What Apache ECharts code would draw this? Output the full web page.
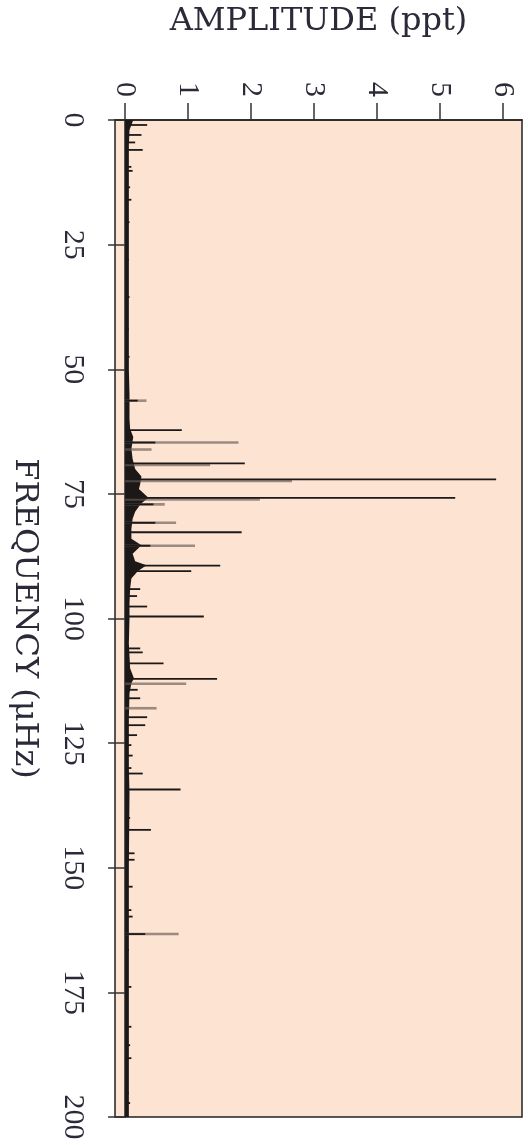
<!DOCTYPE html>
<html><head><meta charset="utf-8">
<script src="https://cdn.jsdelivr.net/npm/echarts@6/dist/echarts.min.js"></script>
<style>html,body{margin:0;padding:0;background:#fff}#c{width:528px;height:1145px}</style>
</head><body><div id="c"></div>
<script>
// Tick labels
const freqTicks = [0, 25, 50, 75, 100, 125, 150, 175, 200];
const ampTicks = [0, 1, 2, 3, 4, 5, 6];

// Dark (strong) spectral peaks: frequency (μHz) and amplitude (ppt)
const darkFreq = [1.0, 3.0, 4.5, 6.0, 9.4, 10.2, 13.5, 16.0, 20.5, 28.0, 35.5, 42.0, 47.5,
  56.3, 62.2, 64.7, 68.9, 72.1, 75.8, 77.1, 80.8, 82.7, 85.4, 89.4, 90.5, 94.1, 95.5, 97.6,
  99.6, 106.0, 106.8, 109.0, 112.1, 114.3, 116.0, 119.8, 121.4, 123.4, 125.4, 127.5, 130.0,
  131.1, 134.3, 140.0, 142.4, 147.1, 148.4, 153.8, 158.5, 159.8, 163.3, 166.5, 173.9, 181.9,
  185.6, 188.2, 195.2, 197.2];
const darkAmp = [0.35, 0.26, 0.16, 0.28, 0.10, 0.12, 0.08, 0.10, 0.07, 0.06, 0.07, 0.06, 0.07,
  0.20, 0.90, 0.48, 1.90, 5.89, 5.24, 0.45, 0.48, 1.85, 0.40, 1.51, 1.05, 0.24, 0.19, 0.35,
  1.25, 0.24, 0.28, 0.61, 1.46, 0.20, 0.24, 0.35, 0.32, 0.19, 0.10, 0.12, 0.10,
  0.28, 0.88, 0.08, 0.41, 0.15, 0.15, 0.12, 0.10, 0.12, 0.32, 0.06, 0.10, 0.10,
  0.08, 0.10, 0.06, 0.08];

// Lighter (blended) peak components
const grayFreq = [56.3, 64.7, 66.1, 69.2, 72.4, 76.1, 77.1, 80.8, 85.4, 113.1, 118.0, 163.3];
const grayAmp = [0.34, 1.80, 0.42, 1.35, 2.65, 2.14, 0.63, 0.81, 1.11, 0.97, 0.50, 0.85];

// Noise envelope (upper edge of the dense low-level spectrum)
const noiseFreq = [0, 1, 2, 5, 10, 20, 30, 40, 50, 55, 60, 62, 63.6, 66, 68, 70, 71.5, 73, 74,
  75.8, 77, 78.6, 80, 82, 84, 85.3, 87, 88.5, 89.3, 90.5, 92, 94, 97, 100, 105, 110, 112, 113,
  115, 120, 130, 135, 150, 165, 180, 200];
const noiseAmp = [0.13, 0.10, 0.07, 0.06, 0.06, 0.06, 0.06, 0.06, 0.06, 0.07, 0.07, 0.08, 0.13,
  0.10, 0.12, 0.16, 0.26, 0.24, 0.22, 0.37, 0.25, 0.16, 0.12, 0.10, 0.10, 0.26, 0.12, 0.16,
  0.34, 0.20, 0.10, 0.08, 0.07, 0.07, 0.06, 0.08, 0.14, 0.10, 0.07, 0.06, 0.06, 0.07, 0.06,
  0.06, 0.06, 0.06];

const FONT = 'Liberation Serif';
const NAMEFONT = 'DejaVu Serif';
const TXT = '#2a2a38';

function spikeSeries(freqs, amps, color, width) {
  return {
    type: 'custom',
    coordinateSystem: 'cartesian2d',
    encode: { x: 0, y: 1 },
    data: freqs.map((f, i) => [amps[i], f]),
    renderItem: function (params, api) {
      const a = api.coord([0, api.value(1)]);
      const b = api.coord([api.value(0), api.value(1)]);
      return { type: 'line', shape: { x1: a[0], y1: a[1], x2: b[0], y2: b[1] },
        style: { stroke: color, lineWidth: width } };
    },
    silent: true, animation: false
  };
}

const noiseSeries = {
  type: 'custom',
  coordinateSystem: 'cartesian2d',
  encode: { x: 0, y: 1 },
  data: noiseFreq.map((f, i) => [noiseAmp[i], f]),
  renderItem: function (params, api) {
    if (params.dataIndex !== 0) return null;
    const pts = noiseFreq.map((f, i) => api.coord([noiseAmp[i], f]));
    pts.push(api.coord([0, noiseFreq[noiseFreq.length - 1]]));
    pts.push(api.coord([0, noiseFreq[0]]));
    return { type: 'polygon', shape: { points: pts }, style: { fill: '#1c1818' } };
  },
  silent: true, animation: false
};

const chart = echarts.init(document.getElementById('c'));
chart.setOption({
  backgroundColor: '#ffffff',
  animation: false,
  grid: { left: 115, right: 6, top: 120, bottom: 28, show: true, outerBoundsMode: 'none',
    containLabel: false,
    backgroundColor: '#fde3d2', borderColor: '#222', borderWidth: 1.5 },
  xAxis: {
    type: 'value', position: 'top', min: -0.16, max: 6.3,
    name: 'AMPLITUDE (ppt)', nameLocation: 'middle', nameGap: 82,
    nameTextStyle: { fontFamily: NAMEFONT, fontSize: 32, color: TXT },
    axisLine: { show: true, lineStyle: { color: '#222', width: 1.5 } },
    axisTick: { show: true, inside: false, length: 17, customValues: ampTicks,
      lineStyle: { color: '#333', width: 1.5 } },
    axisLabel: { show: true, customValues: ampTicks, rotate: -90, margin: 23,
      fontFamily: FONT, fontSize: 30, color: TXT },
    splitLine: { show: false }
  },
  yAxis: {
    type: 'value', inverse: true, min: 0, max: 200, interval: 25,
    name: 'FREQUENCY (μHz)', nameLocation: 'middle', nameGap: 75, nameRotate: -90,
    nameTextStyle: { fontFamily: NAMEFONT, fontSize: 32, color: TXT },
    axisLine: { show: true, lineStyle: { color: '#222', width: 1.5 } },
    axisTick: { show: true, inside: false, length: 17, lineStyle: { color: '#333', width: 1.5 } },
    axisLabel: { show: true, rotate: -90, margin: 27, fontFamily: FONT, fontSize: 30, color: TXT,
      formatter: v => freqTicks.includes(v) ? String(v) : '' },
    splitLine: { show: false }
  },
  series: [
    noiseSeries,
    spikeSeries(grayFreq, grayAmp, 'rgba(105,90,84,0.65)', 2.6),
    spikeSeries(darkFreq, darkAmp, '#1c1818', 1.8)
  ]
});
</script></body></html>
